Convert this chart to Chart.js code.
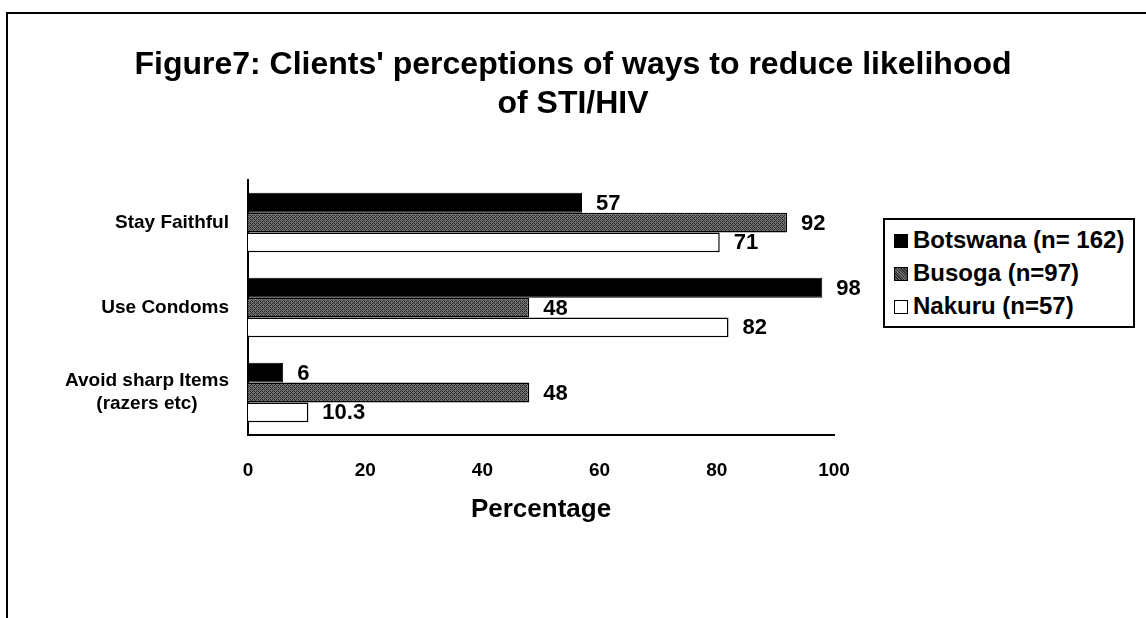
<!DOCTYPE html>
<html>
<head>
<meta charset="utf-8">
<script src="https://cdn.jsdelivr.net/npm/chart.js@4"></script>
<style>
  body { margin: 0; background: #fff; }
  #wrap { position: relative; width: 1146px; height: 618px; overflow: hidden; }
  #frame { position: absolute; left: 6px; top: 12px; width: 1200px; height: 700px; border: 2px solid #000; }
  #chart { position: absolute; left: 0; top: 0; }
  #legend { position: absolute; left: 883px; top: 218px; width: 248px; height: 106px;
            border: 2px solid #000; background: #fff; font: bold 24px Arial, "Liberation Sans", sans-serif; }
  .row { position: absolute; left: 9px; height: 30px; line-height: 30px; white-space: nowrap; }
  .mk { display: inline-block; width: 12px; height: 12px; border: 1px solid #000; margin-right: 5px; vertical-align: 0px; }
</style>
</head>
<body>
<div id="wrap">
  <div id="frame"></div>
  <canvas id="chart" width="1146" height="618"></canvas>
  <div id="legend"></div>
</div>
<script>
// ============================================================
// Dados
// ============================================================

const categorias = ['Stay Faithful', 'Use Condoms', ['Avoid sharp Items', '(razers etc)']];
const botswana = [57, 98, 6];
const busoga = [92, 48, 48];
// comprimento lido da barra (o rótulo impresso no original diz 71)
const nakuru = [80.5, 82, 10.3];
const rotBotswana = ['57', '98', '6'];
const rotBusoga = ['92', '48', '48'];
const rotNakuru = ['71', '82', '10.3'];
const series = ['Botswana (n= 162)', 'Busoga (n=97)', 'Nakuru (n=57)'];
const xTicks = [0, 20, 40, 60, 80, 100];

const FONT = 'Arial, "Liberation Sans", sans-serif';

// hachura cinza escura da série Busoga
function criarHachura() {
    const c = document.createElement('canvas');
    c.width = 4; c.height = 4;
    const g = c.getContext('2d');
    g.fillStyle = '#6e6e6e';
    g.fillRect(0, 0, 4, 4);
    g.fillStyle = '#2e2e2e';
    for (let i = 0; i < 4; i++) g.fillRect(i, 3 - i, 1, 1);
    g.fillRect(0, 1, 1, 1);
    g.fillRect(2, 3, 1, 1);
    return g.createPattern(c, 'repeat');
}
const hachura = criarHachura();

// ============================================================
// Plugins
// ============================================================

const rotulosValores = {
    id: 'rotulosValores',
    afterDatasetsDraw(chart) {
        const ctx = chart.ctx;
        ctx.save();
        ctx.font = 'bold 22px ' + FONT;
        ctx.fillStyle = '#000';
        ctx.textAlign = 'left';
        ctx.textBaseline = 'middle';
        chart.data.datasets.forEach((ds, i) => {
            chart.getDatasetMeta(i).data.forEach((bar, j) => {
                ctx.fillText(ds.rotulos[j], bar.x + 14, bar.y + 1);
            });
        });
        ctx.restore();
    }
};

const rotulosCategorias = {
    id: 'rotulosCategorias',
    afterDraw(chart) {
        const ctx = chart.ctx;
        const y = chart.scales.y;
        ctx.save();
        ctx.font = 'bold 19px ' + FONT;
        ctx.fillStyle = '#000';
        ctx.textAlign = 'center';
        ctx.textBaseline = 'middle';
        const direita = chart.chartArea.left - 19;
        chart.data.labels.forEach((lab, i) => {
            const linhas = Array.isArray(lab) ? lab : [lab];
            const w = Math.max(...linhas.map(l => ctx.measureText(l).width));
            const cx = direita - w / 2;
            const cy = y.getPixelForTick(i);
            const lh = 23;
            linhas.forEach((l, k) => {
                ctx.fillText(l, cx, cy + (k - (linhas.length - 1) / 2) * lh);
            });
        });
        ctx.restore();
    }
};

// ============================================================
// Gráfico
// ============================================================

const ctx = document.getElementById('chart').getContext('2d');
new Chart(ctx, {
    type: 'bar',
    data: {
        labels: categorias,
        datasets: [
            { label: series[0], data: botswana, rotulos: rotBotswana, backgroundColor: '#000', borderColor: '#000', borderWidth: 1 },
            { label: series[1], data: busoga, rotulos: rotBusoga, backgroundColor: hachura, borderColor: '#000', borderWidth: 1.5 },
            { label: series[2], data: nakuru, rotulos: rotNakuru, backgroundColor: '#fff', borderColor: '#000', borderWidth: 1.5 }
        ]
    },
    options: {
        indexAxis: 'y',
        responsive: false,
        animation: false,
        categoryPercentage: 0.7,
        barPercentage: 1,
        layout: { padding: 0 },
        plugins: {
            legend: { display: false },
            tooltip: { enabled: false },
            title: {
                display: true,
                text: ["Figure7: Clients' perceptions of ways to reduce likelihood", 'of STI/HIV'],
                color: '#000',
                font: { family: FONT, size: 32, weight: 'bold', lineHeight: 1.22 },
                padding: { top: 46, bottom: 56 }
            }
        },
        scales: {
            x: {
                min: 0, max: 100,
                afterBuildTicks(scale) { scale.ticks = xTicks.map(v => ({ value: v })); },
                afterFit(scale) { scale.height = 183; },
                grid: { display: false, drawTicks: false },
                border: { display: true, color: '#000', width: 2 },
                ticks: { color: '#000', padding: 24, font: { family: FONT, size: 19, weight: 'bold' } },
                title: {
                    display: true, text: 'Percentage', color: '#000',
                    font: { family: FONT, size: 26, weight: 'bold' },
                    padding: { top: 0, bottom: 93 }
                }
            },
            y: {
                afterFit(scale) { scale.width = 248; },
                grid: { display: false, drawTicks: false },
                border: { display: true, color: '#000', width: 2 },
                ticks: { display: false }
            },
            y2: {
                type: 'category',
                position: 'right',
                display: true,
                afterFit(scale) { scale.width = 312; },
                grid: { display: false, drawTicks: false },
                border: { display: false },
                ticks: { display: false }
            }
        }
    },
    plugins: [rotulosValores, rotulosCategorias]
});

// legenda
const legenda = document.getElementById('legend');
const marcas = ['#000', null, '#fff'];
series.forEach((s, i) => {
    const row = document.createElement('div');
    row.className = 'row';
    row.style.top = (5 + i * 33) + 'px';
    const mk = document.createElement('span');
    mk.className = 'mk';
    if (marcas[i]) mk.style.background = marcas[i];
    else mk.style.background = '#555 repeating-linear-gradient(45deg, #2e2e2e 0 1px, #6e6e6e 1px 2px)';
    row.appendChild(mk);
    row.appendChild(document.createTextNode(s));
    legenda.appendChild(row);
});
</script>
</body>
</html>
